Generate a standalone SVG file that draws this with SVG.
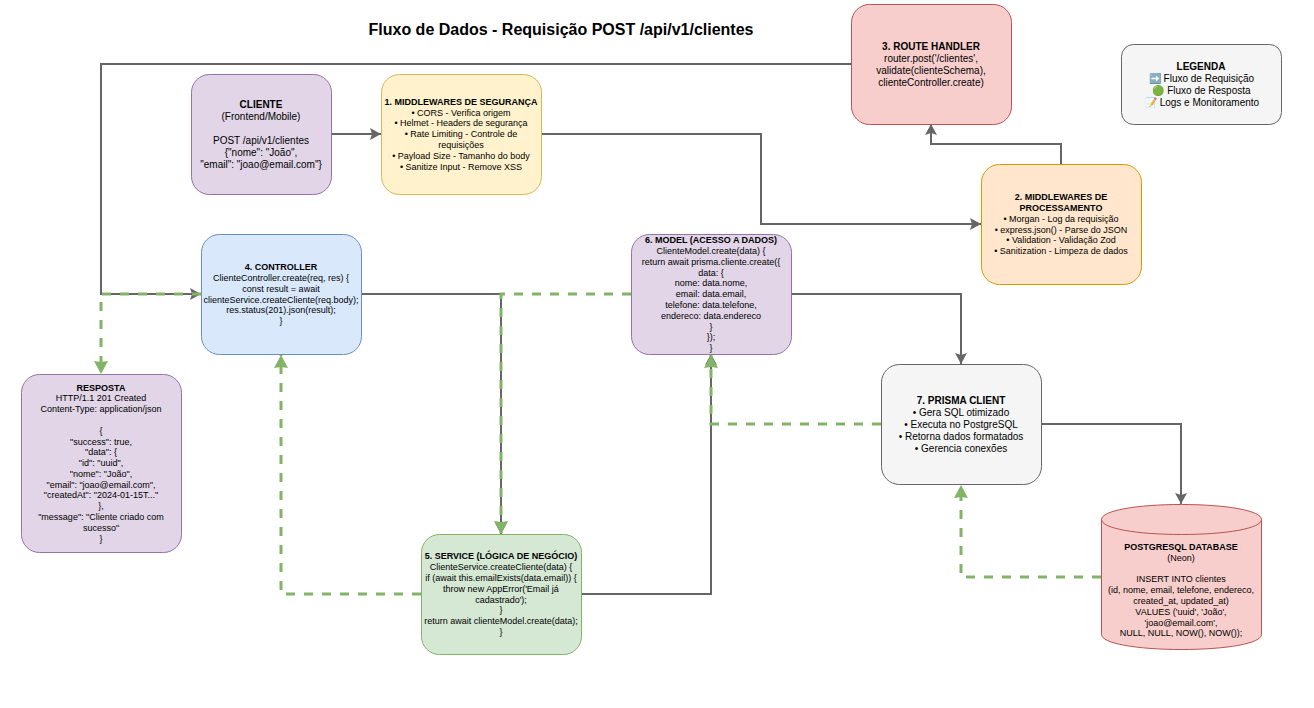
<svg xmlns="http://www.w3.org/2000/svg" width="1314" height="708" viewBox="0 0 1314 708">
<style>
text{font-family:"Liberation Sans",Arial,sans-serif;font-size:10px;text-anchor:middle;fill:#000}
.s text{font-size:9px}
.b{font-weight:bold}
.t{font-size:16px;font-weight:bold}
.n{stroke-width:1}
.req{fill:none;stroke:#666;stroke-width:2}
.res{fill:none;stroke:#82b366;stroke-width:3;stroke-dasharray:9 9}
</style>
<defs>
<marker id="ag" markerUnits="userSpaceOnUse" markerWidth="14" markerHeight="14" refX="11" refY="6" orient="auto"><path d="M0 0L11 6L0 12L2 6Z" fill="#666"/></marker>
<marker id="ar" markerUnits="userSpaceOnUse" markerWidth="16" markerHeight="16" refX="13" refY="7" orient="auto"><path d="M0 0L13 7L0 14L1 7Z" fill="#82b366"/></marker>
</defs>
<rect width="1314" height="708" fill="#fff"/>
<text class="t" x="561" y="35">Fluxo de Dados - Requisição POST /api/v1/clientes</text>
<g id="connectors">
<path class="req" d="M331 134H381" marker-end="url(#ag)"/>
<path class="req" d="M541 134H761V224H981" marker-end="url(#ag)"/>
<path class="req" d="M1061 164V144H931V124" marker-end="url(#ag)"/>
<path class="req" d="M851 64H101V294H201" marker-end="url(#ag)"/>
<path class="req" d="M361 294H501V534" marker-end="url(#ag)"/>
<path class="req" d="M581 594H711V354" marker-end="url(#ag)"/>
<path class="req" d="M791 294H961V364" marker-end="url(#ag)"/>
<path class="req" d="M1041 424H1181V504" marker-end="url(#ag)"/>
<path class="res" d="M1101 577H961V485" marker-end="url(#ar)"/>
<path class="res" d="M881 424H711V355" marker-end="url(#ar)"/>
<path class="res" d="M631 294H501V534" marker-end="url(#ar)"/>
<path class="res" d="M421 594H281V355" marker-end="url(#ar)"/>
<path class="res" d="M201 294H101V374" marker-end="url(#ar)"/>
</g>
<g id="cliente">
<rect class="n" x="191.5" y="74.5" width="140" height="120" rx="18" fill="#e1d5e7" stroke="#9673a6"/>
<text class="b" x="261" y="108">CLIENTE</text>
<text x="261" y="120">(Frontend/Mobile)</text>
<text x="261" y="144">POST /api/v1/clientes</text>
<text x="261" y="156">{"nome": "João",</text>
<text x="261" y="168">"email": "joao@email.com"}</text>
</g>
<g id="middlewares-seguranca" class="s">
<rect class="n" x="381.5" y="74.5" width="160" height="120" rx="18" fill="#fff2cc" stroke="#d6b656"/>
<text class="b" x="461" y="105">1. MIDDLEWARES DE SEGURANÇA</text>
<text x="461" y="116">• CORS - Verifica origem</text>
<text x="461" y="126">• Helmet - Headers de segurança</text>
<text x="461" y="137">• Rate Limiting - Controle de</text>
<text x="461" y="148">requisições</text>
<text x="461" y="159">• Payload Size - Tamanho do body</text>
<text x="461" y="170">• Sanitize Input - Remove XSS</text>
</g>
<g id="route-handler">
<rect class="n" x="851.5" y="4.5" width="160" height="120" rx="18" fill="#f8cecc" stroke="#b85450"/>
<text class="b" x="931" y="50">3. ROUTE HANDLER</text>
<text x="931" y="62">router.post('/clientes',</text>
<text x="931" y="74">validate(clienteSchema),</text>
<text x="931" y="86">clienteController.create)</text>
</g>
<g id="legenda">
<rect class="n" x="1121.5" y="44.5" width="160" height="80" rx="12" fill="#f5f5f5" stroke="#666"/>
<text class="b" x="1201" y="70">LEGENDA</text>
<text x="1201.5" y="82">➡️ Fluxo de Requisição</text>
<text x="1201.5" y="94">🟢 Fluxo de Resposta</text>
<text x="1202" y="106">📝 Logs e Monitoramento</text>
</g>
<g id="middlewares-processamento" class="s">
<rect class="n" x="981.5" y="164.5" width="160" height="120" rx="18" fill="#ffe6cc" stroke="#d79b00"/>
<text class="b" x="1061" y="200">2. MIDDLEWARES DE</text>
<text class="b" x="1061" y="211">PROCESSAMENTO</text>
<text x="1061" y="222">• Morgan - Log da requisição</text>
<text x="1061" y="233">• express.json() - Parse do JSON</text>
<text x="1061" y="243">• Validation - Validação Zod</text>
<text x="1061" y="254">• Sanitization - Limpeza de dados</text>
</g>
<g id="controller" class="s">
<rect class="n" x="201.5" y="234.5" width="160" height="120" rx="18" fill="#dae8fc" stroke="#6c8ebf"/>
<text class="b" x="281" y="270">4. CONTROLLER</text>
<text x="281" y="281">ClienteController.create(req, res) {</text>
<text x="281" y="292">const result = await</text>
<text x="281" y="303">clienteService.createCliente(req.body);</text>
<text x="281" y="313">res.status(201).json(result);</text>
<text x="281" y="324">}</text>
</g>
<g id="model" class="s">
<rect class="n" x="631.5" y="234.5" width="160" height="120" rx="18" fill="#e1d5e7" stroke="#9673a6"/>
<text class="b" x="711" y="243">6. MODEL (ACESSO A DADOS)</text>
<text x="711" y="254">ClienteModel.create(data) {</text>
<text x="711" y="265">return await prisma.cliente.create({</text>
<text x="711" y="276">data: {</text>
<text x="711" y="286">nome: data.nome,</text>
<text x="711" y="297">email: data.email,</text>
<text x="711" y="308">telefone: data.telefone,</text>
<text x="711" y="319">endereco: data.endereco</text>
<text x="711" y="330">}</text>
<text x="711" y="340">});</text>
<text x="711" y="351">}</text>
</g>
<g id="resposta" class="s">
<rect class="n" x="21.5" y="374.5" width="160" height="178" rx="18" fill="#e1d5e7" stroke="#9673a6"/>
<text class="b" x="101" y="391">RESPOSTA</text>
<text x="101" y="401">HTTP/1.1 201 Created</text>
<text x="101" y="412">Content-Type: application/json</text>
<text x="101" y="434">{</text>
<text x="101" y="445">"success": true,</text>
<text x="101" y="455">"data": {</text>
<text x="101" y="466">"id": "uuid",</text>
<text x="101" y="477">"nome": "João",</text>
<text x="101" y="488">"email": "joao@email.com",</text>
<text x="101" y="498">"createdAt": "2024-01-15T..."</text>
<text x="101" y="509">},</text>
<text x="101" y="520">"message": "Cliente criado com</text>
<text x="101" y="531">sucesso"</text>
<text x="101" y="542">}</text>
</g>
<g id="prisma">
<rect class="n" x="881.5" y="364.5" width="160" height="120" rx="18" fill="#f5f5f5" stroke="#666"/>
<text class="b" x="961" y="404">7. PRISMA CLIENT</text>
<text x="961" y="416">• Gera SQL otimizado</text>
<text x="961" y="428">• Executa no PostgreSQL</text>
<text x="961" y="440">• Retorna dados formatados</text>
<text x="961" y="452">• Gerencia conexões</text>
</g>
<g id="service" class="s">
<rect class="n" x="421.5" y="534.5" width="160" height="120" rx="18" fill="#d5e8d4" stroke="#82b366"/>
<text class="b" x="501" y="559">5. SERVICE (LÓGICA DE NEGÓCIO)</text>
<text x="501" y="570">ClienteService.createCliente(data) {</text>
<text x="501" y="581">if (await this.emailExists(data.email)) {</text>
<text x="501" y="592">throw new AppError('Email já</text>
<text x="501" y="603">cadastrado');</text>
<text x="501" y="613">}</text>
<text x="501" y="624">return await clienteModel.create(data);</text>
<text x="501" y="635">}</text>
</g>
<g id="database" class="s">
<path class="n" d="M1101.5 519.5C1101.5 510.5 1137 504.5 1181.5 504.5C1226 504.5 1261.5 510.5 1261.5 519.5V634.5C1261.5 643.5 1226 649.5 1181.5 649.5C1137 649.5 1101.5 643.5 1101.5 634.5Z" fill="#f8cecc" stroke="#b85450"/>
<path class="n" d="M1101.5 519.5C1101.5 528.5 1137 534.5 1181.5 534.5C1226 534.5 1261.5 528.5 1261.5 519.5" fill="none" stroke="#b85450"/>
<text class="b" x="1181" y="550">POSTGRESQL DATABASE</text>
<text x="1181" y="561">(Neon)</text>
<text x="1181" y="582">INSERT INTO clientes</text>
<text x="1181" y="593">(id, nome, email, telefone, endereco,</text>
<text x="1181" y="604">created_at, updated_at)</text>
<text x="1181" y="615">VALUES ('uuid', 'João',</text>
<text x="1181" y="626">'joao@email.com',</text>
<text x="1181" y="636">NULL, NULL, NOW(), NOW());</text>
</g>
</svg>
